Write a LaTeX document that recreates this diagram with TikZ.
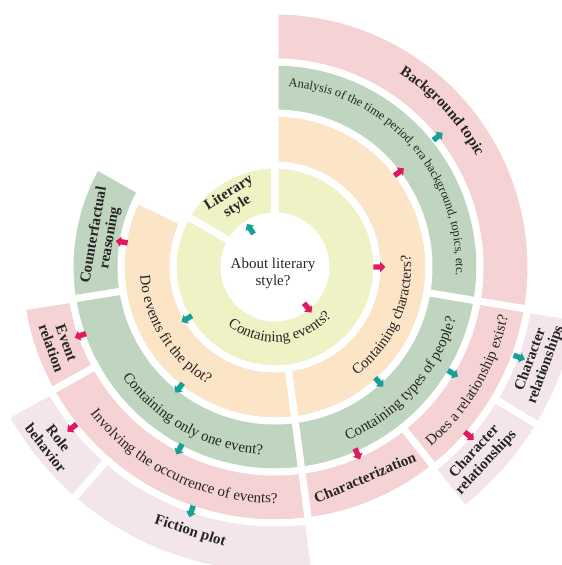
\documentclass[tikz,border=0pt]{standalone}
\usepackage{fontspec}
\setmainfont{Liberation Serif}
\usetikzlibrary{shapes.arrows,decorations.text}
\definecolor{ringyellow}{HTML}{EEF2C4}
\definecolor{ringorange}{HTML}{FCE4C6}
\definecolor{ringgreen}{HTML}{BFD5BF}
\definecolor{ringpink}{HTML}{F5D2D3}
\definecolor{ringlight}{HTML}{F3E5EA}
\definecolor{yesteal}{HTML}{18A098}
\definecolor{nopink}{HTML}{E1195F}
\newcommand\regsize{\fontsize{15pt}{17pt}\selectfont}
\newcommand\smallsize{\fontsize{12.5pt}{15pt}\selectfont}
\newcommand\boldsize{\fontsize{15pt}{16pt}\selectfont\bfseries}
\begin{document}
\begin{tikzpicture}[x=1pt,y=1pt,
  sector/.style={draw=white,line width=7pt},
  leaf/.style={align=center,text=black!85,font=\boldsize,inner sep=0pt},
  yesarrow/.style={single arrow,fill=yesteal,minimum height=12pt,text height=5pt,text depth=0pt,text width=0pt,single arrow head extend=2.5pt,inner sep=0pt},
  noarrow/.style={yesarrow,fill=nopink},
  curved/.style={decorate,decoration={text along path,text align=center,text color=black!85,text={#1}}}]
\useasboundingbox (-275,-298) rectangle (287,267);
\filldraw[sector,fill=ringyellow] (90:51pt) arc[start angle=90,end angle=150,radius=51pt] -- (150:102pt) arc[start angle=150,end angle=90,radius=102pt] -- cycle;
\filldraw[sector,fill=ringyellow] (150:51pt) arc[start angle=150,end angle=450,radius=51pt] -- (450:102pt) arc[start angle=450,end angle=150,radius=102pt] -- cycle;
\filldraw[sector,fill=ringorange] (154:102pt) arc[start angle=154,end angle=277.5,radius=102pt] -- (277.5:154pt) arc[start angle=277.5,end angle=154,radius=154pt] -- cycle;
\filldraw[sector,fill=ringorange] (-82.5:102pt) arc[start angle=-82.5,end angle=90,radius=102pt] -- (90:154pt) arc[start angle=90,end angle=-82.5,radius=154pt] -- cycle;
\filldraw[sector,fill=ringgreen] (150.5:154pt) arc[start angle=150.5,end angle=189,radius=154pt] -- (189:205pt) arc[start angle=189,end angle=150.5,radius=205pt] -- cycle;
\filldraw[sector,fill=ringgreen] (189:154pt) arc[start angle=189,end angle=277.5,radius=154pt] -- (277.5:205pt) arc[start angle=277.5,end angle=189,radius=205pt] -- cycle;
\filldraw[sector,fill=ringgreen] (-82.5:154pt) arc[start angle=-82.5,end angle=-9.5,radius=154pt] -- (-9.5:205pt) arc[start angle=-9.5,end angle=-82.5,radius=205pt] -- cycle;
\filldraw[sector,fill=ringgreen] (-9.5:154pt) arc[start angle=-9.5,end angle=90,radius=154pt] -- (90:205pt) arc[start angle=90,end angle=-9.5,radius=205pt] -- cycle;
\filldraw[sector,fill=ringpink] (-9.5:205pt) arc[start angle=-9.5,end angle=90,radius=205pt] -- (90:256pt) arc[start angle=90,end angle=-9.5,radius=256pt] -- cycle;
\filldraw[sector,fill=ringpink] (-51.5:205pt) arc[start angle=-51.5,end angle=-9.5,radius=205pt] -- (-9.5:256pt) arc[start angle=-9.5,end angle=-51.5,radius=256pt] -- cycle;
\filldraw[sector,fill=ringpink] (-82.5:205pt) arc[start angle=-82.5,end angle=-51.5,radius=205pt] -- (-51.5:256pt) arc[start angle=-51.5,end angle=-82.5,radius=256pt] -- cycle;
\filldraw[sector,fill=ringpink] (209:205pt) arc[start angle=209,end angle=277.5,radius=205pt] -- (277.5:256pt) arc[start angle=277.5,end angle=209,radius=256pt] -- cycle;
\filldraw[sector,fill=ringpink] (189:205pt) arc[start angle=189,end angle=209,radius=205pt] -- (209:256pt) arc[start angle=209,end angle=189,radius=256pt] -- cycle;
\filldraw[sector,fill=ringlight] (209:256pt) arc[start angle=209,end angle=229,radius=256pt] -- (229:308pt) arc[start angle=229,end angle=209,radius=308pt] -- cycle;
\filldraw[sector,fill=ringlight] (229:256pt) arc[start angle=229,end angle=277.5,radius=256pt] -- (277.5:308pt) arc[start angle=277.5,end angle=229,radius=308pt] -- cycle;
\filldraw[sector,fill=ringlight] (-52:256pt) arc[start angle=-52,end angle=-31,radius=256pt] -- (-31:308pt) arc[start angle=-31,end angle=-52,radius=308pt] -- cycle;
\filldraw[sector,fill=ringlight] (-31:256pt) arc[start angle=-31,end angle=-9.5,radius=256pt] -- (-9.5:308pt) arc[start angle=-9.5,end angle=-31,radius=308pt] -- cycle;
\node[align=center,text=black!85,font=\regsize] (about) at (-2,-6) {About literary\\style?};
\node[leaf,rotate=32] (literary) at (122:79pt) {Literary\\style};
\node[leaf,rotate=80] (counterfactual) at (170:175.6pt) {Counterfactual\\reasoning};
\node[leaf,rotate=-70] (eventrel) at (200:230pt) {Event\\relation};
\node[leaf,rotate=-51.7] (role) at (218.3:284pt) {Role\\behavior};
\node[leaf,rotate=-17.8] (fiction) at (252.2:278pt) {Fiction plot};
\node[leaf,rotate=23] (charzn) at (-66.9:229pt) {Characterization};
\node[leaf,rotate=47.2] (charrel1) at (-42.8:280pt) {Character\\relationships};
\node[leaf,rotate=70] (charrel2) at (-19.9:280pt) {Character\\relationships};
\path[curved={|\regsize|Containing events?}] (-155:75pt) arc[start angle=-155,end angle=-15,radius=75pt];
\path[curved={|\regsize|Containing characters?}] (-84:136pt) arc[start angle=-84,end angle=36,radius=136pt];
\path[curved={|\regsize|Do events fit the plot?}] (152:135pt) arc[start angle=152,end angle=272,radius=135pt];
\path[curved={|\regsize|Containing only one event?}] (191:188pt) arc[start angle=191,end angle=291,radius=188pt];
\path[curved={|\regsize|Involving the occurrence of events?}] (199.5:236pt) arc[start angle=199.5,end angle=289.5,radius=236pt];
\path[curved={|\regsize|Containing types of people?}] (-91.6:188pt) arc[start angle=-91.6,end angle=8.4,radius=188pt];
\path[curved={|\regsize|Does a relationship exist?}] (-70:238pt) arc[start angle=-70,end angle=9,radius=238pt];
\path[curved={|\smallsize|Analysis of the time period, era background, topics, etc.}] (111.5:181pt) arc[start angle=111.5,end angle=-28.5,radius=181pt];
\path[curved={|\boldsize|Background topic}] (83:230pt) arc[start angle=83,end angle=3,radius=230pt];
\node[yesarrow,rotate=123] (arr1) at (123:44pt) {};
\node[noarrow,rotate=-51.3] (arr2) at (-51.3:51pt) {};
\node[yesarrow,rotate=210.4] (arr3) at (210.4:101pt) {};
\node[noarrow,rotate=0] (arr4) at (0:103pt) {};
\node[noarrow,rotate=37.4] (arr5) at (37.4:155pt) {};
\node[yesarrow,rotate=38.7] (arr6) at (38.7:207.5pt) {};
\node[yesarrow,rotate=-47.9] (arr7) at (-47.9:154pt) {};
\node[yesarrow,rotate=-30.9] (arr8) at (-30.9:206pt) {};
\node[yesarrow,rotate=-20.3] (arr9) at (-20.3:259pt) {};
\node[noarrow,rotate=-41] (arr10) at (-41:256pt) {};
\node[noarrow,rotate=-66.2] (arr11) at (-66.2:203pt) {};
\node[noarrow,rotate=170.7] (arr12) at (170.7:154pt) {};
\node[yesarrow,rotate=231.6] (arr13) at (231.6:153pt) {};
\node[noarrow,rotate=199.4] (arr14) at (199.4:205pt) {};
\node[yesarrow,rotate=242.3] (arr15) at (242.3:204.5pt) {};
\node[noarrow,rotate=218.4] (arr16) at (218.4:257.7pt) {};
\node[yesarrow,rotate=251.1] (arr17) at (251.1:257pt) {};
\end{tikzpicture}
\end{document}
